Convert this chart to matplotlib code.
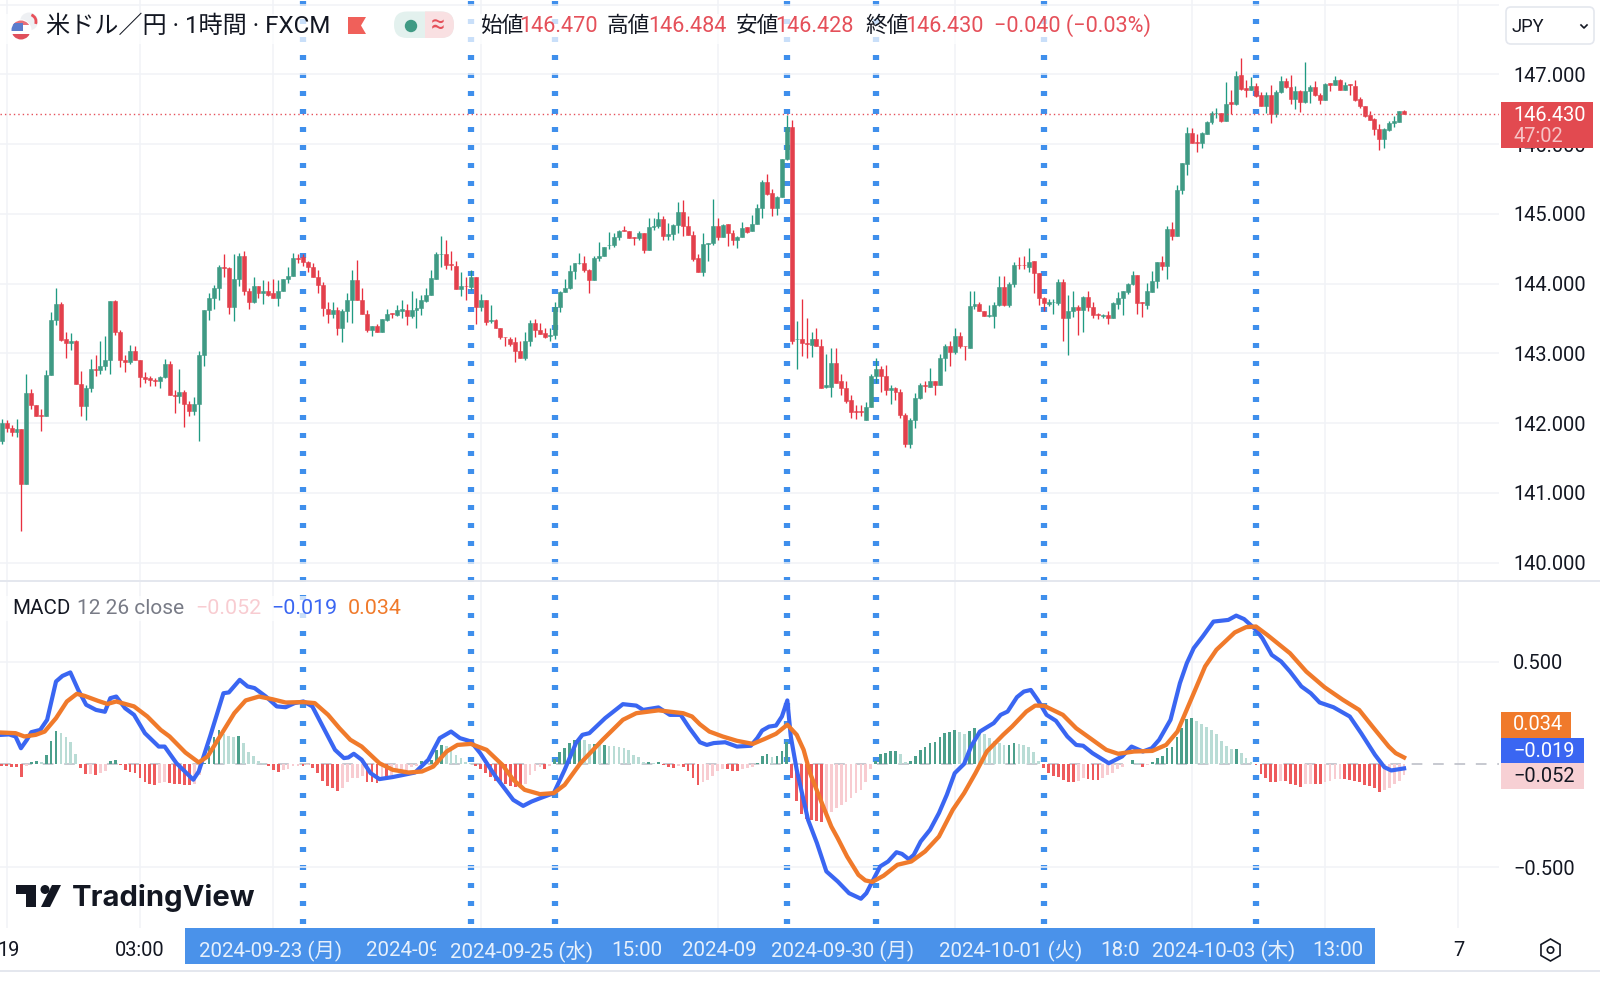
import matplotlib
matplotlib.use("Agg")
import matplotlib.pyplot as plt
from matplotlib.patches import Rectangle, FancyBboxPatch, Circle, Polygon, RegularPolygon, Arc

plt.rcParams['font.family'] = ['Roboto', 'Noto Sans CJK JP', 'DejaVu Sans']

# USD/JPY 1h candles
price_open = [
    141.75, 142.00, 141.93, 141.87, 141.91, 141.13, 142.43, 142.26, 142.11, 142.10,
    142.69, 143.48, 143.71, 143.20, 143.15, 143.17, 142.56, 142.24, 142.50, 142.78,
    142.76, 142.82, 142.91, 143.75, 143.31, 142.91, 142.88, 143.03, 142.91, 142.66,
    142.64, 142.62, 142.60, 142.66, 142.85, 142.41, 142.39, 142.45, 142.27, 142.17,
    142.27, 142.97, 143.62, 143.80, 143.93, 144.24, 144.22, 143.67, 144.06, 144.40,
    143.90, 143.74, 143.96, 143.86, 143.90, 143.87, 143.80, 143.90, 144.07, 144.11,
    144.37, 144.38, 144.31, 144.24, 144.10, 143.98, 143.64, 143.57, 143.62, 143.36,
    143.60, 143.76, 144.05, 143.76, 143.57, 143.33, 143.39, 143.30, 143.48, 143.58,
    143.55, 143.61, 143.62, 143.53, 143.62, 143.65, 143.75, 143.83, 144.07, 144.42,
    144.43, 144.28, 144.25, 143.92, 143.97, 143.95, 144.09, 143.66, 143.77, 143.46,
    143.48, 143.37, 143.24, 143.21, 143.16, 143.03, 142.93, 143.17, 143.44, 143.33,
    143.29, 143.25, 143.26, 143.67, 143.88, 143.93, 144.18, 144.29, 144.30, 144.20,
    144.05, 144.36, 144.40, 144.55, 144.55, 144.67, 144.77, 144.75, 144.67, 144.65,
    144.72, 144.48, 144.81, 144.83, 144.92, 144.68, 144.71, 144.84, 145.02, 144.82,
    144.70, 144.36, 144.17, 144.57, 144.58, 144.83, 144.67, 144.85, 144.72, 144.62,
    144.67, 144.81, 144.75, 144.86, 145.08, 145.46, 145.30, 145.08, 145.24, 145.78,
    146.24, 143.20, 143.20, 143.15, 143.12, 143.21, 143.10, 142.52, 142.52, 142.86,
    142.60, 142.51, 142.33, 142.18, 142.18, 142.05, 142.23, 142.67, 142.78, 142.68,
    142.47, 142.51, 142.44, 142.12, 141.70, 142.05, 142.36, 142.55, 142.52, 142.60,
    142.55, 142.94, 143.11, 143.02, 143.25, 143.11, 143.08, 143.68, 143.71, 143.61,
    143.53, 143.54, 143.70, 143.95, 143.70, 144.00, 144.27, 144.27, 144.24, 144.32,
    144.15, 143.79, 143.71, 143.73, 143.72, 144.03, 143.51, 143.60, 143.66, 143.62,
    143.81, 143.66, 143.57, 143.53, 143.55, 143.50, 143.71, 143.80, 143.88, 143.99,
    144.13, 143.73, 143.70, 143.88, 144.04, 144.31, 144.25, 144.78, 144.68, 145.34,
    145.72, 146.16, 146.03, 146.01, 146.15, 146.31, 146.44, 146.44, 146.33, 146.60,
    146.57, 146.99, 146.80, 146.77, 146.83, 146.70, 146.54, 146.71, 146.43, 146.74,
    146.91, 146.82, 146.65, 146.76, 146.60, 146.76, 146.82, 146.70, 146.63, 146.87,
    146.85, 146.92, 146.78, 146.86, 146.83, 146.64, 146.55, 146.41, 146.36, 146.22,
    146.07, 146.20, 146.30, 146.32, 146.47,
]
price_close = [
    142.00, 141.93, 141.87, 141.91, 141.13, 142.43, 142.26, 142.10, 142.10, 142.69,
    143.48, 143.71, 143.19, 143.15, 143.17, 142.56, 142.24, 142.50, 142.78, 142.76,
    142.82, 142.91, 143.75, 143.31, 142.90, 142.88, 143.03, 142.91, 142.66, 142.63,
    142.62, 142.60, 142.66, 142.85, 142.40, 142.39, 142.45, 142.27, 142.17, 142.27,
    142.97, 143.62, 143.80, 143.93, 144.24, 144.22, 143.67, 144.06, 144.40, 143.90,
    143.74, 143.96, 143.87, 143.90, 143.83, 143.80, 143.90, 144.07, 144.11, 144.36,
    144.35, 144.31, 144.24, 144.10, 143.98, 143.65, 143.57, 143.62, 143.36, 143.60,
    143.76, 144.05, 143.76, 143.57, 143.33, 143.39, 143.30, 143.49, 143.57, 143.57,
    143.62, 143.63, 143.53, 143.62, 143.65, 143.76, 143.83, 144.08, 144.42, 144.43,
    144.27, 144.26, 143.92, 143.96, 143.96, 144.09, 143.66, 143.77, 143.45, 143.48,
    143.37, 143.23, 143.23, 143.14, 143.03, 142.93, 143.17, 143.44, 143.33, 143.28,
    143.23, 143.27, 143.67, 143.88, 143.94, 144.18, 144.29, 144.30, 144.20, 144.05,
    144.36, 144.40, 144.53, 144.56, 144.67, 144.76, 144.75, 144.66, 144.65, 144.72,
    144.48, 144.81, 144.83, 144.92, 144.68, 144.71, 144.84, 145.02, 144.82, 144.70,
    144.35, 144.17, 144.57, 144.58, 144.83, 144.67, 144.84, 144.72, 144.62, 144.67,
    144.80, 144.74, 144.86, 145.08, 145.46, 145.29, 145.08, 145.24, 145.78, 146.24,
    143.18, 143.21, 143.15, 143.14, 143.21, 143.10, 142.50, 142.54, 142.86, 142.57,
    142.50, 142.32, 142.16, 142.16, 142.16, 142.23, 142.68, 142.78, 142.68, 142.47,
    142.51, 142.44, 142.12, 141.70, 142.05, 142.36, 142.54, 142.53, 142.60, 142.55,
    142.94, 143.11, 143.02, 143.25, 143.10, 143.10, 143.68, 143.71, 143.61, 143.53,
    143.55, 143.70, 143.95, 143.70, 144.00, 144.26, 144.26, 144.26, 144.31, 144.15,
    143.79, 143.72, 143.73, 143.74, 144.03, 143.51, 143.60, 143.66, 143.62, 143.81,
    143.66, 143.55, 143.55, 143.55, 143.50, 143.72, 143.80, 143.89, 143.99, 144.12,
    143.72, 143.72, 143.89, 144.04, 144.31, 144.25, 144.78, 144.68, 145.34, 145.73,
    146.16, 146.02, 146.02, 146.16, 146.31, 146.44, 146.45, 146.33, 146.58, 146.58,
    146.98, 146.79, 146.78, 146.83, 146.69, 146.54, 146.71, 146.43, 146.74, 146.91,
    146.82, 146.65, 146.76, 146.60, 146.76, 146.82, 146.70, 146.63, 146.86, 146.85,
    146.92, 146.78, 146.85, 146.84, 146.63, 146.54, 146.40, 146.35, 146.21, 146.07,
    146.21, 146.30, 146.33, 146.47, 146.43,
]
price_high = [
    142.06, 142.04, 141.98, 142.06, 141.91, 142.70, 142.49, 142.26, 142.20, 142.76,
    143.59, 143.93, 143.74, 143.30, 143.29, 143.19, 142.75, 142.55, 142.92, 142.97,
    143.17, 143.25, 143.75, 143.76, 143.33, 142.98, 143.12, 143.10, 142.91, 142.73,
    142.68, 142.64, 142.67, 142.92, 142.89, 142.47, 142.77, 142.48, 142.31, 142.37,
    143.04, 143.62, 143.86, 143.98, 144.26, 144.42, 144.24, 144.42, 144.44, 144.47,
    143.94, 144.10, 143.97, 144.05, 144.04, 144.06, 144.05, 144.07, 144.24, 144.44,
    144.43, 144.43, 144.32, 144.30, 144.19, 144.02, 143.74, 143.74, 143.66, 143.63,
    143.87, 144.19, 144.34, 143.93, 143.62, 143.39, 143.42, 143.49, 143.63, 143.58,
    143.70, 143.77, 143.71, 143.90, 143.80, 143.83, 143.93, 144.19, 144.45, 144.68,
    144.62, 144.47, 144.32, 144.16, 144.10, 144.20, 144.09, 143.85, 143.77, 143.70,
    143.49, 143.37, 143.24, 143.23, 143.24, 143.18, 143.30, 143.48, 143.49, 143.44,
    143.36, 143.37, 143.74, 143.90, 144.06, 144.27, 144.29, 144.44, 144.40, 144.21,
    144.40, 144.60, 144.53, 144.74, 144.73, 144.77, 144.82, 144.75, 144.67, 144.76,
    144.72, 144.94, 144.94, 145.03, 144.97, 144.87, 144.86, 145.17, 145.20, 144.97,
    144.75, 144.43, 144.73, 144.58, 145.21, 144.94, 144.86, 144.85, 144.77, 144.68,
    144.88, 144.81, 144.98, 145.14, 145.48, 145.57, 145.36, 145.26, 145.79, 146.42,
    146.34, 143.47, 143.78, 143.50, 143.31, 143.36, 143.21, 142.99, 143.07, 143.08,
    142.70, 142.60, 142.41, 142.26, 142.26, 142.30, 142.70, 142.94, 142.82, 142.83,
    142.55, 142.52, 142.49, 142.15, 142.07, 142.43, 142.58, 142.60, 142.79, 142.60,
    142.99, 143.13, 143.18, 143.36, 143.30, 143.11, 143.90, 143.90, 143.73, 143.61,
    143.69, 143.73, 144.11, 144.11, 144.02, 144.31, 144.38, 144.40, 144.51, 144.33,
    144.15, 143.81, 143.78, 143.78, 144.06, 144.06, 143.83, 143.90, 143.69, 143.82,
    143.90, 143.74, 143.58, 143.56, 143.60, 143.74, 143.88, 143.90, 144.01, 144.18,
    144.13, 143.73, 144.01, 144.18, 144.31, 144.40, 144.83, 144.88, 145.42, 145.73,
    146.24, 146.23, 146.14, 146.18, 146.33, 146.47, 146.51, 146.44, 146.89, 146.78,
    147.05, 147.23, 146.92, 146.96, 146.87, 146.74, 146.75, 146.85, 146.77, 146.98,
    146.94, 146.99, 146.83, 146.78, 147.17, 146.85, 146.91, 146.73, 146.88, 146.87,
    146.97, 146.93, 146.89, 146.86, 146.92, 146.67, 146.55, 146.48, 146.37, 146.29,
    146.23, 146.33, 146.40, 146.47, 146.484,
]
price_low = [
    141.70, 141.87, 141.82, 141.80, 140.45, 141.13, 142.20, 142.10, 141.88, 142.10,
    142.69, 143.40, 143.18, 142.94, 143.05, 142.56, 142.10, 142.04, 142.45, 142.68,
    142.71, 142.76, 142.71, 143.27, 142.80, 142.73, 142.85, 142.91, 142.52, 142.57,
    142.53, 142.53, 142.51, 142.64, 142.40, 142.14, 142.29, 141.95, 142.10, 142.11,
    141.74, 142.82, 143.48, 143.64, 143.77, 144.10, 143.57, 143.47, 143.96, 143.83,
    143.64, 143.72, 143.80, 143.71, 143.82, 143.79, 143.68, 143.90, 144.01, 144.11,
    144.30, 144.25, 144.17, 144.10, 143.87, 143.53, 143.43, 143.51, 143.26, 143.16,
    143.45, 143.43, 143.76, 143.57, 143.31, 143.25, 143.30, 143.30, 143.47, 143.51,
    143.54, 143.51, 143.40, 143.51, 143.37, 143.55, 143.74, 143.83, 144.06, 144.24,
    144.21, 144.20, 143.92, 143.82, 143.77, 143.91, 143.42, 143.60, 143.40, 143.43,
    143.37, 143.21, 143.10, 143.11, 142.88, 142.93, 142.90, 143.10, 143.23, 143.28,
    143.22, 143.18, 143.21, 143.59, 143.88, 143.92, 144.06, 144.28, 144.16, 143.86,
    144.05, 144.32, 144.40, 144.49, 144.53, 144.62, 144.75, 144.66, 144.56, 144.62,
    144.44, 144.48, 144.77, 144.79, 144.62, 144.63, 144.62, 144.72, 144.68, 144.70,
    144.33, 144.17, 144.11, 144.32, 144.56, 144.62, 144.67, 144.54, 144.56, 144.51,
    144.67, 144.73, 144.75, 144.86, 144.94, 145.27, 144.97, 144.99, 145.24, 145.77,
    143.13, 142.78, 142.96, 142.94, 142.95, 143.10, 142.50, 142.51, 142.37, 142.57,
    142.40, 142.29, 142.07, 142.06, 142.10, 142.05, 142.23, 142.57, 142.45, 142.40,
    142.27, 142.33, 142.07, 141.66, 141.65, 141.93, 142.34, 142.45, 142.52, 142.40,
    142.55, 142.74, 142.82, 142.99, 143.07, 142.90, 143.08, 143.64, 143.61, 143.53,
    143.52, 143.37, 143.68, 143.68, 143.66, 143.95, 144.21, 144.21, 144.17, 143.87,
    143.69, 143.61, 143.68, 143.56, 143.70, 143.18, 142.97, 143.52, 143.26, 143.31,
    143.60, 143.51, 143.49, 143.50, 143.42, 143.50, 143.64, 143.55, 143.85, 143.98,
    143.56, 143.52, 143.64, 143.88, 143.94, 144.19, 144.06, 144.62, 144.68, 145.28,
    145.56, 146.01, 145.89, 145.95, 146.14, 146.29, 146.37, 146.31, 146.33, 146.43,
    146.56, 146.78, 146.68, 146.77, 146.67, 146.54, 146.45, 146.30, 146.39, 146.73,
    146.81, 146.58, 146.50, 146.46, 146.59, 146.59, 146.69, 146.57, 146.63, 146.76,
    146.85, 146.77, 146.78, 146.70, 146.62, 146.52, 146.39, 146.34, 146.13, 145.91,
    145.95, 146.19, 146.24, 146.32, 146.428,
]

macd_hist = [
    -.005, -.005, -.010, -.010, -.060, -.005, .013, .016, .013, .047,
    .115, .165, .152, .133, .107, .049, -.019, -.045, -.044, -.049,
    -.042, -.034, .018, .023, -.002, -.026, -.036, -.042, -.068, -.084,
    -.097, -.099, -.091, -.087, -.092, -.094, -.096, -.099, -.100, -.094,
    -.050, .006, .090, .133, .168, .146, .139, .133, .139, .104,
    .061, .040, .019, .005, -.005, -.029, -.036, -.026, -.024, -.008,
    -.005, -.005, -.003, -.018, -.042, -.078, -.104, -.115, -.131, -.115,
    -.087, -.066, -.065, -.055, -.084, -.087, -.092, -.060, -.068, -.050,
    -.034, -.030, -.026, -.013, -.006, .015, .010, .023, .071, .095,
    .090, .068, .044, .031, .013, .006, -.006, -.023, -.039, -.060,
    -.079, -.084, -.094, -.104, -.107, -.110, -.094, -.050, -.030, -.010,
    -.020, -.006, .026, .060, .081, .104, .117, .123, .120, .100,
    .100, .095, .095, .091, .089, .087, .078, .068, .045, .034,
    .010, .011, .006, .013, -.003, -.013, -.018, -.005, -.010, -.034,
    -.065, -.099, -.087, -.074, -.055, -.031, -.023, -.023, -.034, -.034,
    -.023, -.018, -.010, .008, .042, .049, .037, .039, .066, .108,
    -.065, -.175, -.240, -.265, -.270, -.275, -.278, -.249, -.230, -.212,
    -.196, -.180, -.165, -.138, -.123, -.083, -.023, .019, .052, .058,
    .066, .066, .049, .010, .015, .042, .071, .084, .104, .107,
    .133, .152, .157, .168, .159, .149, .165, .176, .163, .147,
    .128, .115, .104, .095, .095, .105, .100, .094, .084, .060,
    .018, -.015, -.039, -.055, -.063, -.074, -.084, -.084, -.081, -.068,
    -.071, -.074, -.074, -.066, -.052, -.039, -.023, -.010, .003, .023,
    .006, -.010, -.002, .013, .032, .042, .078, .087, .133, .176,
    .222, .225, .209, .197, .181, .168, .147, .115, .091, .074,
    .076, .055, .031, .013, -.003, -.045, -.066, -.087, -.087, -.079,
    -.081, -.094, -.099, -.107, -.097, -.094, -.097, -.097, -.084, -.078,
    -.071, -.070, -.070, -.074, -.081, -.087, -.099, -.104, -.115, -.133,
    -.123, -.112, -.097, -.078, -.052,
]

# MACD line, candle number / value
macd_x = [
    0, 1.5, 2.8, 3.9, 5.1, 6, 7.8, 9.2, 11, 12.3, 13.9, 15.5, 17.1, 19.1, 20.9, 22, 23.2, 25, 26.8, 29,
    31.8, 33, 35.4, 38.8, 39.9, 42.2, 44.9, 46, 48.2, 49.8, 51.2, 53.5, 55.7, 57.5, 59.3, 61.1, 62.9, 65.2, 67.5, 69.3,
    70.2, 71.3, 72.9, 74.7, 76.5, 79.2, 81.5, 83.7, 86.4, 88.7, 91, 92.8, 95, 96.9, 100, 103.6, 105.6, 107.3, 109, 111.8,
    114, 116.3, 117.6, 119, 122.2, 125.8, 128.5, 129.9, 133, 135.3, 137.5, 139.3, 141.4, 142.8, 144.2, 146.5, 148.9, 151.7, 153, 154,
    155.4, 156.8, 158, 159.1, 159.8, 161, 163.3, 165.1, 167, 169.3, 171.6, 174, 175.1, 177.9, 179.5, 181.2, 182.3, 183.7, 184.7, 186.1,
    188, 189.8, 191.4, 193, 194.9, 196.3, 198.1, 200.9, 202.3, 203.7, 205.6, 207, 208.4, 209.8, 211.6, 213.5, 215.8, 217.6, 219, 220.9,
    224.2, 226.9, 228.8, 231.1, 232.9, 234.4, 236.7, 238.6, 240, 241.4, 243.2, 245.4, 248.4, 250, 251.6, 254, 255.3, 257.2, 259.1, 260.9,
    263.2, 265.1, 266.9, 269.7, 273, 275.3, 278.1, 280, 281.4, 284,
]
macd_line = [
    .144, .146, .136, .079, .120, .157, .168, .217, .403, .430, .447, .362, .290, .265, .256, .322, .330, .273, .241, .152,
    .087, .087, .006, -.074, -.034, .136, .346, .350, .411, .379, .371, .330, .282, .278, .298, .306, .282, .176, .071, .031,
    .034, .052, .023, -.042, -.071, -.061, -.050, -.039, .023, .128, .160, .128, .112, .055, -.058, -.172, -.201, -.180, -.164, -.139,
    -.026, .104, .144, .152, .225, .293, .286, .265, .277, .241, .241, .176, .108, .095, .104, .108, .087, .091, .128, .165,
    .184, .189, .233, .311, .136, -.026, -.269, -.382, -.519, -.568, -.625, -.652, -.625, -.495, -.471, -.426, -.434, -.460, -.439, -.374,
    -.317, -.236, -.147, -.042, .003, .087, .160, .201, .241, .257, .327, .354, .362, .314, .241, .212, .136, .095, .091, .055,
    .006, .039, .087, .063, .079, .120, .217, .395, .492, .565, .621, .694, .702, .723, .706, .654, .613, .532, .500, .451,
    .379, .346, .301, .278, .233, .152, .047, -.013, -.029, -.019,
]

# signal line
signal_x = [
    0, 2.8, 4.6, 6.9, 8.7, 11, 13.2, 15.2, 16.8, 19.5, 21.4, 23.2, 26.8, 29.5, 32.2, 34, 37.2, 39.9, 41.7, 44.4,
    47.1, 49.4, 52.1, 54.8, 57.5, 61.1, 63.4, 66.1, 68.4, 70.6, 72.9, 76.5, 79.2, 82.4, 85.1, 87.4, 90.1, 92.3, 95, 98.2,
    101.4, 103.6, 105.9, 109, 111.8, 114, 117.2, 121.7, 125.8, 128.5, 133, 138, 139.8, 141.4, 143.3, 146, 148.9, 152.1, 154.4, 156.8,
    159.1, 161, 162.4, 163.7, 166.1, 168, 169.3, 171.2, 173.5, 174.9, 176.3, 178.6, 181.4, 184.2, 187, 189.8, 192.6, 194.9, 197.2, 199.5,
    202.8, 204.6, 207.5, 209.3, 211.1, 214.9, 217.6, 220.4, 223.7, 226.1, 229.3, 233, 235.8, 238.1, 241.4, 243.7, 246, 249.7, 252, 254,
    256.3, 260.9, 264.2, 267.9, 271.6, 274.9, 277.6, 280.9, 282.3, 284,
]
signal_line = [
    .155, .152, .136, .144, .160, .225, .306, .343, .333, .309, .294, .306, .282, .233, .168, .136, .058, .010, .039, .144,
    .249, .311, .330, .317, .301, .303, .298, .241, .176, .120, .087, .006, -.026, -.039, -.034, -.010, .063, .095, .100, .071,
    -.002, -.074, -.123, -.144, -.139, -.099, .006, .120, .217, .249, .263, .249, .233, .195, .160, .136, .115, .100, .123, .149,
    .193, .144, .071, -.042, -.188, -.301, -.358, -.447, -.536, -.563, -.570, -.540, -.487, -.471, -.422, -.350, -.220, -.139, -.042, .063,
    .144, .184, .257, .286, .285, .241, .176, .128, .071, .052, .063, .066, .095, .160, .346, .476, .557, .641, .667, .670,
    .629, .540, .451, .375, .314, .265, .184, .087, .055, .034,
]

# candles where the dotted markers sit
cross_idx = [61, 95, 112, 159, 177, 211, 254]
grid_idx = [1, 28, 55, 97, 145, 193, 241, 268, 295]
price_ticks = [140, 141, 142, 143, 144, 145, 146, 147]
price_grid = price_ticks + [148]
macd_ticks = [0.5, -0.5]
last_price = 146.43

GREEN = '#3f9a84'
RED = '#e3404c'
GREEN_W = '#1f9a82'
RED_W = '#e8303f'
H_GREEN = '#4b9f8b'
H_LGREEN = '#b9dcd5'
H_RED = '#ee5a5c'
H_PINK = '#f8ccd1'
BLUE = '#3a66f2'
ORANGE = '#f07a2b'
DOT = '#3f8fec'
GRID = '#f1f3f7'
SEP = '#e4e7ee'
TXT = '#131722'
GREY = '#787b86'
TAG_RED = '#e24a50'
PRICE_RED = '#e5505a'

# px of candle 0 and px per candle, the axes below are laid out from these
X0 = 1.7
STEP = 4.938
PLOT_W = 1499
W, H = 1600, 984


def idx_lim(width):
    return (-X0 / STEP, (width - X0) / STEP)


fig = plt.figure(figsize=(16, 9.84), dpi=100, facecolor='white')

# dotted markers sit behind the candles
ax_sig = fig.add_axes([0, 0, 1, 1], zorder=0)
ax_sig.set_xlim(*idx_lim(W))
ax_sig.set_ylim(H, 0)
ax_sig.axis('off')
for c in cross_idx:
    ax_sig.plot([c, c], [0.5, 928], color=DOT, lw=4.5, linestyle=(0, (0.8, 2.08)), solid_capstyle='butt')

ax_price = fig.add_axes([0, 1 - 581 / H, PLOT_W / W, 581 / H], zorder=1)
ax_macd = fig.add_axes([0, 1 - 928 / H, PLOT_W / W, 347 / H], zorder=1)

for ax in (ax_price, ax_macd):
    ax.patch.set_alpha(0)
    ax.set_xlim(*idx_lim(PLOT_W))
    ax.set_xticks(grid_idx)
    ax.tick_params(axis='x', length=0, labelbottom=False)
    ax.tick_params(axis='y', length=0, right=True, left=False, labelright=True, labelleft=False, pad=10,
                   labelsize=14.4, labelcolor=TXT)
    ax.grid(True, color=GRID, lw=1.1)
    ax.set_axisbelow(True)
    for s in ax.spines.values():
        s.set_visible(False)

# price pane
ax_price.set_ylim(139.737, 148.065)
ax_price.set_yticks(price_grid)
ax_price.set_yticklabels(['%.3f' % p if p != 148 else '' for p in price_grid])
for i in range(len(price_open)):
    up = price_close[i] >= price_open[i]
    ax_price.vlines(i, price_low[i], price_high[i], color=GREEN_W if up else RED_W, lw=0.95, zorder=2)
    ax_price.bar(i, price_close[i] - price_open[i], bottom=price_open[i], width=0.8,
                 color=GREEN if up else RED, edgecolor=GREEN if up else RED, lw=0.4, zorder=3)
ax_price.axhline(last_price, color=PRICE_RED, lw=1, linestyle=(0, (1, 2.2)), zorder=4)

# macd pane
ax_macd.set_ylim(-0.794, 0.891)
ax_macd.set_yticks(macd_ticks)
ax_macd.set_yticklabels(['0.500', '\u22120.500'])
ax_macd.axhline(0, color='#b8bbc4', lw=1.1, linestyle=(0, (7, 7)), zorder=1)
hist_colors = []
for i, v in enumerate(macd_hist):
    prev = macd_hist[i - 1] if i else v
    if v >= 0:
        hist_colors.append(H_GREEN if v >= prev else H_LGREEN)
    else:
        hist_colors.append(H_RED if v <= prev else H_PINK)
ax_macd.bar(range(len(macd_hist)), macd_hist, width=0.56, color=hist_colors, zorder=2)
ax_macd.plot(macd_x, macd_line, color=BLUE, lw=3.0, zorder=3, solid_joinstyle='round')
ax_macd.plot(signal_x, signal_line, color=ORANGE, lw=3.1, zorder=4, solid_joinstyle='round')

# everything else is chart furniture in pixel coordinates
ui = fig.add_axes([0, 0, 1, 1], zorder=3)
ui.set_xlim(0, W)
ui.set_ylim(H, 0)
ui.axis('off')


def label(x, y, s, color=TXT, size=15.6, **kw):
    return ui.text(x, y, s, color=color, fontsize=size, va='center', ha=kw.pop('ha', 'left'), **kw)


# separators
ui.plot([0, W], [581, 581], color=SEP, lw=1.4)
ui.plot([0, W], [971, 971], color=SEP, lw=1.4)

# header
ui.add_patch(Rectangle((0, 14), 1165, 30, color='white', alpha=0.72, lw=0))

# flag badge, exchange badge behind it
back = Circle((29, 21.5), 9, color='#eef0f3', lw=0)
ui.add_patch(back)
ui.add_patch(Arc((29, 21.5), 14, 14, theta1=-70, theta2=20, color='#e8505a', lw=2))
front = Circle((21, 30), 9.5, fc='white', ec='white', lw=1.5)
ui.add_patch(front)
flag_clip = Circle((21, 30), 9.5, transform=ui.transData)
for r in (Rectangle((11, 20), 20, 5, color='#e8707a', lw=0),
          Rectangle((11, 34), 20, 6, color='#e0505c', lw=0),
          Rectangle((11, 23), 12, 8, color='#5a7ccc', lw=0)):
    ui.add_patch(r)
    r.set_clip_path(flag_clip)

label(46, 26, '米ドル／円 · 1時間 · FXCM', size=17.4)
ui.add_patch(Polygon([(348, 17), (366, 17), (361, 25.5), (366, 34), (348, 34)], color='#f0605a', lw=0))
ui.add_patch(FancyBboxPatch((394, 11.5), 60, 26.5, boxstyle='round,pad=0,rounding_size=13', fc='#e3f1ee', ec='none'))
pill_r = FancyBboxPatch((394, 11.5), 60, 26.5, boxstyle='round,pad=0,rounding_size=13', fc='#f9e0e2', ec='none')
ui.add_patch(pill_r)
pill_r.set_clip_path(Rectangle((425, 0), 40, 50, transform=ui.transData))
ui.add_patch(Circle((411, 26), 6.2, color='#3f9a84', lw=0))
label(438, 25, '≈', color=PRICE_RED, size=18, ha='center')

label(480, 26, '始値')
label(519.5, 26, '146.470', color=PRICE_RED)
label(607, 26, '高値')
label(648.5, 26, '146.484', color=PRICE_RED)
label(736, 26, '安値')
label(775.5, 26, '146.428', color=PRICE_RED)
label(865, 26, '終値')
label(905.5, 26, '146.430', color=PRICE_RED)
label(994, 26, '\u22120.040 (\u22120.03%)', color=PRICE_RED)

# currency box
ui.add_patch(FancyBboxPatch((1506, 7), 88, 37, boxstyle='round,pad=0,rounding_size=5', fc='white', ec=SEP, lw=1.2))
label(1512, 26.5, 'JPY', size=13.2)
ui.plot([1581, 1584, 1587], [25, 28, 25], color=TXT, lw=1.2)

# last price tag
ui.add_patch(Rectangle((1500.5, 101.5), 92.5, 46, color=TAG_RED, lw=0))
label(1513, 115.5, '146.430', color='white', size=14.4)
label(1513, 137, '47:02', color='#f6c4c6', size=14.4)

# macd legend and tags
ui.add_patch(Rectangle((0, 596), 410, 25, color='white', alpha=0.72, lw=0))
label(12, 608.5, 'MACD', size=14.8)
label(77, 608.5, '12 26 close', color=GREY, size=15)
label(195, 608.5, '\u22120.052', color=H_PINK, size=15.4)
label(271, 608.5, '\u22120.019', color=BLUE, size=15.4)
label(347.5, 608.5, '0.034', color=ORANGE, size=15.4)

ui.add_patch(Rectangle((1500.5, 712), 70.5, 25.5, color=ORANGE, lw=0))
ui.add_patch(Rectangle((1500.5, 737.5), 83, 25.5, color=BLUE, lw=0))
ui.add_patch(Rectangle((1500.5, 763), 83, 25.5, color='#f7d0d4', lw=0))
label(1513, 725, '0.034', color='white', size=14.4)
label(1513, 751.5, '\u22120.019', color='white', size=14.4)
label(1513, 777, '\u22120.052', size=14.4)

# logo
ui.add_patch(Polygon([(16, 885), (36, 885), (36, 907), (26, 907), (26, 894), (16, 894)], color=TXT, lw=0))
ui.add_patch(Circle((45, 889.5), 4.5, color=TXT, lw=0))
ui.add_patch(Polygon([(52, 885), (61, 885), (50, 907), (41, 907)], color=TXT, lw=0))
label(72, 898, 'TradingView', size=21, fontweight='bold', family=['Inter', 'Roboto'])

# time axis
ui.add_patch(Rectangle((184.7, 928), 1190.3, 36, color='#4a92ea', lw=0))
time_labels = [
    (199, '2024-09-23 (月)'), (450, '2024-09-25 (水)'), (611, '15:00'), (771, '2024-09-30 (月)'),
    (939, '2024-10-01 (火)'), (1152, '2024-10-03 (木)'), (1312, '13:00'),
]
for x, s in time_labels:
    label(x, 951, s, color='#e6f0fc', size=14.8)
cut1 = label(366, 951, '2024-09', color='#e6f0fc', size=14.8, clip_on=True)
cut1.set_clip_path(Rectangle((366, 928), 70, 36, transform=ui.transData))
cut2 = label(682, 951, '2024-09', color='#e6f0fc', size=14.8, clip_on=True)
cut2.set_clip_path(Rectangle((682, 928), 76, 36, transform=ui.transData))
cut3 = label(1100, 951, '18:00', color='#e6f0fc', size=14.8, clip_on=True)
cut3.set_clip_path(Rectangle((1100, 928), 39, 36, transform=ui.transData))
label(-3, 951, '19', size=14.4)
label(140, 951, '03:00', size=14.4, ha='center')
label(1459, 951, '7', size=14.4, ha='center')

# settings icon
ui.add_patch(RegularPolygon((1550.5, 950), 6, radius=11, orientation=0, fc='white', ec=TXT, lw=1.2))
ui.add_patch(Circle((1550.5, 950), 3.2, fc='white', ec=TXT, lw=1.2))

fig.savefig('out.png', dpi=100)
